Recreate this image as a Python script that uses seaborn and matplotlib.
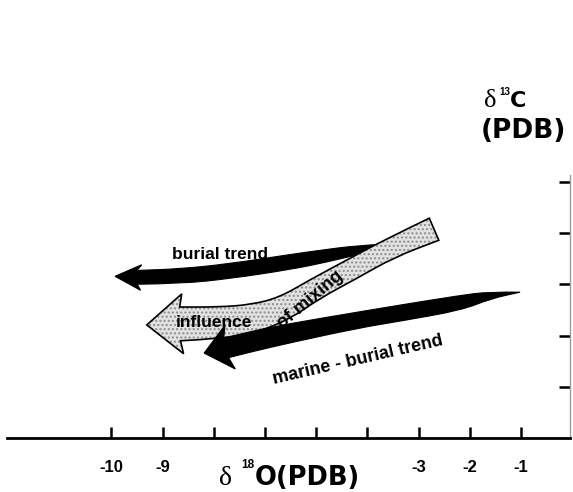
import numpy as np
import matplotlib
matplotlib.use("Agg")
import matplotlib.pyplot as plt
import seaborn as sns
from matplotlib.path import Path
from matplotlib.patches import PathPatch

# ---------------- data (axis units: x = tick index along the d18O axis, y = d13C tick units)
xtick_labels = ["-10", "-9", "", "", "", "", "-3", "-2", "-1"]
ytick_values = [1, 2, 3, 4, 5]

# burial trend arrow (tail -> head base)
burial_x = [5.34, 4.79, 4.13, 3.49, 2.31, 1.34, 0.50]
burial_y = [3.75, 3.67, 3.55, 3.44, 3.26, 3.16, 3.14]
burial_w = [0.08, 0.18, 0.25, 0.29, 0.29, 0.29, 0.27]
burial_tip = (0.07, 3.16)
burial_head_w = 0.50

# marine - burial trend arrow
marine_x = [7.98, 7.39, 6.81, 5.63, 4.79, 3.49, 2.71, 2.24]
marine_y = [2.85, 2.79, 2.64, 2.44, 2.30, 2.05, 1.88, 1.76]
marine_w = [0.0, 0.14, 0.29, 0.31, 0.31, 0.37, 0.39, 0.39]
marine_tip = (1.81, 1.66)
marine_head_w = 0.88

# influence of mixing arrow
mixing_x = [6.30, 5.44, 4.66, 3.97, 3.39, 2.80, 2.12, 1.34]
mixing_y = [4.08, 3.71, 3.28, 2.91, 2.54, 2.34, 2.25, 2.23]
mixing_w = [0.47, 0.39, 0.41, 0.41, 0.47, 0.55, 0.62, 0.66]
mixing_tip = (0.69, 2.21)
mixing_head_w = 1.17

# ---------------- style
sns.set_theme(style="ticks")
plt.rcParams["font.family"] = ["Liberation Sans", "DejaVu Sans"]
plt.rcParams["text.color"] = "black"
plt.rcParams["xtick.color"] = "black"
plt.rcParams["ytick.color"] = "black"
plt.rcParams["xtick.labelcolor"] = "black"

W, H = 573, 492
fig = plt.figure(figsize=(W / 100, H / 100), dpi=100)
ax = fig.add_axes([7 / W, 54 / H, 563 / W, 263 / H])
ax.set_xlim(-2.04, 8.955)
ax.set_ylim(0, 5.14)
ax.set_facecolor("white")
fig.patch.set_facecolor("white")


def smooth_edge(pts):
    """quadratic-bezier path through midpoints of an edge polyline"""
    verts, codes = [pts[0]], [Path.LINETO]
    n = len(pts)
    if n > 2:
        verts.append((pts[0] + pts[1]) / 2); codes.append(Path.LINETO)
        for i in range(1, n - 1):
            end = (pts[i] + pts[i + 1]) / 2 if i < n - 2 else pts[i + 1]
            verts += [pts[i], end]; codes += [Path.CURVE3, Path.CURVE3]
    else:
        verts.append(pts[-1]); codes.append(Path.LINETO)
    return verts, codes


def arrow_path(xs, ys, ws, tip, head_w, sweep=0.08):
    p = np.column_stack([xs, ys]).astype(float)
    w = np.asarray(ws, float)
    n = len(p)
    t = np.zeros_like(p)
    for i in range(n):
        a = p[max(i - 1, 0)]
        b = p[min(i + 1, n - 1)]
        t[i] = b - a
    t /= np.linalg.norm(t, axis=1)[:, None]
    nrm = np.column_stack([-t[:, 1], t[:, 0]])
    L = p + nrm * w[:, None] / 2
    R = p - nrm * w[:, None] / 2
    base = p[-1]
    tipv = np.asarray(tip, float)
    d = (tipv - base) / np.linalg.norm(tipv - base)
    nb = np.array([-d[1], d[0]])
    barbL = base + nb * head_w / 2 - d * sweep
    barbR = base - nb * head_w / 2 - d * sweep
    v1, c1 = smooth_edge(list(L))
    c1[0] = Path.MOVETO
    verts = v1 + [barbL, tipv, barbR]
    codes = c1 + [Path.LINETO] * 3
    v2, c2 = smooth_edge(list(R[::-1]))
    verts += v2 + [L[0]]
    codes += c2 + [Path.CLOSEPOLY]
    return Path(np.array(verts), codes)


# burial trend (black)
ax.add_patch(PathPatch(arrow_path(burial_x, burial_y, burial_w, burial_tip, burial_head_w),
                       facecolor="black", edgecolor="black", lw=0.8, zorder=2))
# influence of mixing (stippled grey)
mp = arrow_path(mixing_x, mixing_y, mixing_w, mixing_tip, mixing_head_w, sweep=0.05)
ax.add_patch(PathPatch(mp, facecolor="#e2e2e2", edgecolor="#8c8c8c", hatch="....",
                       lw=0, zorder=3))
ax.add_patch(PathPatch(mp, fill=False, edgecolor="black", lw=1.2, zorder=3.1))
# marine - burial trend (black)
ax.add_patch(PathPatch(arrow_path(marine_x, marine_y, marine_w, marine_tip, marine_head_w),
                       facecolor="black", edgecolor="black", lw=0.8, zorder=4))

# labels on the arrows
bold = dict(fontweight="bold", color="black", zorder=6, ha="center", va="center")
ax.text(2.12, 3.59, "burial trend", fontsize=12.5, **bold)
ax.text(2.00, 2.25, "influence", fontsize=12.5, **bold)
ax.text(3.88, 2.70, "of mixing", fontsize=13, rotation=40, rotation_mode="anchor", **bold)
ax.text(4.81, 1.52, "marine - burial trend", fontsize=13, rotation=13,
        rotation_mode="anchor", **bold)

# axes
for s in ["left", "top"]:
    ax.spines[s].set_visible(False)
ax.spines["bottom"].set_linewidth(2.0)
ax.spines["bottom"].set_color("black")
ax.spines["right"].set_linewidth(1.0)
ax.spines["right"].set_color("#9a9a9a")
ax.set_xticks(range(len(xtick_labels)))
ax.set_xticklabels(xtick_labels, fontweight="bold", fontsize=12, color="black")
ax.tick_params(axis="x", direction="in", length=8, width=1.8, pad=15.5, color="black",
               bottom=True, top=False)
ax.yaxis.tick_right()
ax.set_yticks(ytick_values)
ax.set_yticklabels([])
ax.tick_params(axis="y", direction="in", length=8, width=1.8, color="black",
               right=True, left=False)
ax.grid(False)


def ftext(px, py, s, **kw):
    fig.text(px / W, 1 - py / H, s, va="baseline", ha="left", color="black", **kw)


# x-axis title: δ ¹⁸O(PDB)
ftext(219, 485, "δ", family="Liberation Serif", fontsize=20)
ftext(241, 468, "18", fontweight="bold", fontsize=8.5)
ftext(255, 485, "O(PDB)", family="DejaVu Sans", fontweight="bold", fontsize=18.5)

# y-axis title: δ¹³C (PDB)
ftext(484, 107, "δ", family="Liberation Serif", fontsize=19)
ftext(499, 95, "13", fontweight="bold", fontsize=7)
ftext(510, 107, "C", family="DejaVu Sans", fontweight="bold", fontsize=16)
ftext(481, 138, "(PDB)", family="DejaVu Sans", fontweight="bold", fontsize=19)

fig.savefig("out.png", dpi=100)
